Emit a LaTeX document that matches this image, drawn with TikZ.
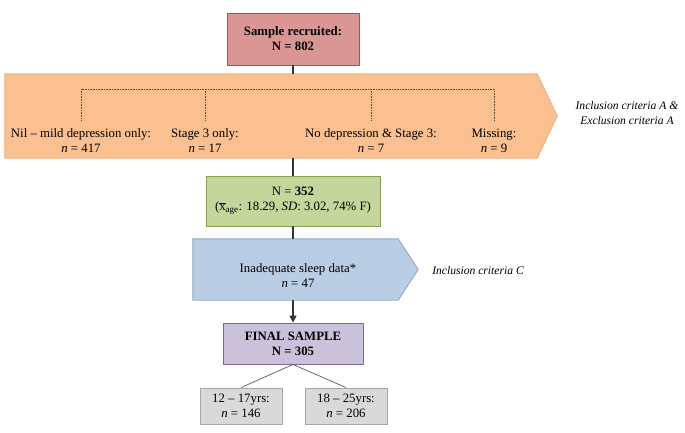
\documentclass[tikz,border=0pt]{standalone}
\usepackage{fontspec}
\setmainfont{Liberation Serif}
\usetikzlibrary{arrows.meta,calc}
\definecolor{redF}{HTML}{D99694}
\definecolor{redD}{HTML}{B0504D}
\definecolor{orangeF}{HTML}{FAC090}
\definecolor{orangeD}{HTML}{EDAE7E}
\definecolor{greenF}{HTML}{C3D69B}
\definecolor{greenD}{HTML}{8AA050}
\definecolor{blueF}{HTML}{B9CDE5}
\definecolor{blueD}{HTML}{8EA9C9}
\definecolor{purpleF}{HTML}{CCC1DA}
\definecolor{purpleD}{HTML}{7F6A93}
\definecolor{greyF}{HTML}{D9D9D9}
\definecolor{greyD}{HTML}{A6A6A6}
\begin{document}
\begin{tikzpicture}[x=1pt,y=-1pt,
  font=\fontsize{12.8}{15}\selectfont,
  box/.style={draw, line width=0.9pt, inner sep=0pt, align=center, text=black},
  lbl/.style={inner sep=0pt, align=center},
  crit/.style={inner sep=0pt, align=center, font=\fontsize{11.6}{15}\selectfont\itshape},
  conn/.style={draw=black!80, line width=1.4pt},
  thin/.style={draw=black!65, line width=0.7pt},
  brk/.style={draw=black!70, dash pattern=on 0.8pt off 0.8pt, line width=0.9pt}]
\useasboundingbox (0,0) rectangle (685,432);

% top box
\node[box, fill=redF, draw=redD, minimum width=132pt, minimum height=52pt] (top) at (293,39)
  {\textbf{Sample recruited:}\\\textbf{N = 802}};

% orange band
\node[inner sep=0pt, minimum width=532pt, minimum height=84pt] (band) at (271,116) {};
\filldraw[fill=orangeF, draw=orangeD, line width=0.9pt]
  (band.north west) -- (band.north east) -- ($(band.east)+(20,0)$) -- (band.south east) -- (band.south west) -- cycle;

\node[lbl] (nil) at (81,140.5) {Nil -- mild depression only:\\\textit{n} = 417};
\node[lbl] (s3) at (205,140.5) {Stage 3 only:\\\textit{n} = 17};
\node[lbl] (nd) at (371,140.5) {No depression \& Stage 3:\\\textit{n} = 7};
\node[lbl] (miss) at (494,140.5) {Missing:\\\textit{n} = 9};
\coordinate (brk) at (293,89);
\draw[brk] ([yshift=8pt]nil.north) -- (nil.north |- brk) -- (miss.north |- brk) -- ([yshift=8pt]miss.north);
\draw[brk] ([yshift=8pt]s3.north) -- (s3.north |- brk);
\draw[brk] ([yshift=8pt]nd.north) -- (nd.north |- brk);

\node[crit] (critA) at (627,113.5) {Inclusion criteria A \&\\Exclusion criteria A};

% green box
\node[box, fill=greenF, draw=greenD, minimum width=174pt, minimum height=50pt] (green) at (293,201)
  {N = \textbf{352}\\(\(\overline{\mbox{x}}\)\textsubscript{age}: 18.29, \textit{SD}: 3.02, 74\% F)};

% blue shape
\node[inner sep=0pt, minimum width=205pt, minimum height=61pt] (blue) at (295.5,269.5) {};
\filldraw[fill=blueF, draw=blueD, line width=0.9pt]
  (blue.north west) -- (blue.north east) -- ($(blue.east)+(20,0)$) -- (blue.south east) -- (blue.south west) -- cycle;
\node[lbl] (bluet) at (298,276) {Inadequate sleep data*\\\textit{n} = 47};
\node[crit] (critC) at (478,271) {Inclusion criteria C};

% purple box
\node[box, fill=purpleF, draw=purpleD, minimum width=140pt, minimum height=41pt] (final) at (293,343.5)
  {\textbf{FINAL SAMPLE}\\\textbf{N = 305}};

% grey boxes
\node[box, fill=greyF, draw=greyD, minimum width=82pt, minimum height=36pt] (g1) at (241,406)
  {12 -- 17yrs:\\\textit{n} = 146};
\node[box, fill=greyF, draw=greyD, minimum width=82pt, minimum height=36pt] (g2) at (346,406)
  {18 -- 25yrs:\\\textit{n} = 206};

% connectors
\draw[conn] (top.south) -- (top.south |- band.north);
\draw[conn] (green.north |- band.south) -- (green.north);
\draw[conn] (green.south) -- (green.south |- blue.north);
\draw[conn, -{Triangle[length=7pt,width=7pt]}] (final.north |- blue.south) -- (final.north);
\draw[thin] (final.south) -- (g1.north);
\draw[thin] (final.south) -- (g2.north);
\end{tikzpicture}
\end{document}
